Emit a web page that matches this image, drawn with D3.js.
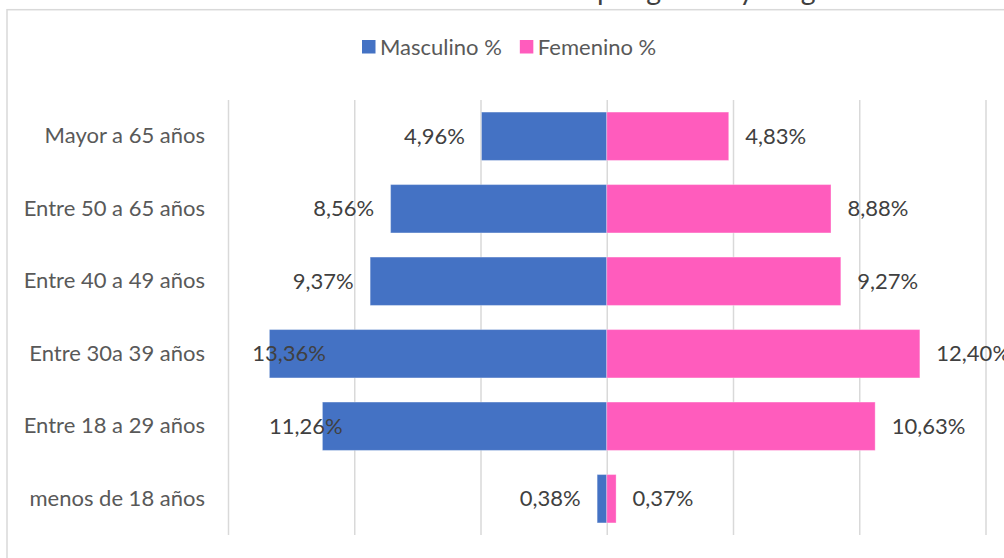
<!DOCTYPE html>
<html><head><meta charset="utf-8">
<script src="https://cdn.jsdelivr.net/npm/d3@7"></script>
<style>
html,body{margin:0;padding:0;background:#fff;}
svg{display:block;}
text{font-family:Lato,"Open Sans",sans-serif;}
</style></head>
<body>
<svg id="chart" width="1004" height="558"></svg>
<script>
// ---- data ----
const categories = ["Mayor a 65 años","Entre 50 a 65 años","Entre 40 a 49 años","Entre 30a 39 años","Entre 18 a 29 años","menos de 18 años"];
const masculino = [4.96, 8.56, 9.37, 13.36, 11.26, 0.38];
const femenino  = [4.83, 8.88, 9.27, 12.40, 10.63, 0.37];
const seriesNames = ["Masculino %", "Femenino %"];
const gridTicks = [-15, -10, -5, 0, 5, 10, 15];
const titleText = "Distribución de los habitantes del sector por género y rango de edad";
// manually moved male labels (label end, in % units)
const maleLabelMoved = {"Entre 30a 39 años": 11.12, "Entre 18 a 29 años": 10.46};

// ---- style/layout ----
const W = 1004, H = 558;
const colors = ["#4472C4", "#FF5CBD"];
const gridColor = "#d9d9d9";
const labelFont = 22;
const svg = d3.select("#chart");

// chart area border
svg.append("rect").attr("x", 7).attr("y", 9.7).attr("width", W + 20).attr("height", H + 20)
  .attr("fill", "#fff").attr("stroke", gridColor).attr("stroke-width", 1.5);

// title (mostly cropped above the picture)
const title = svg.append("text").attr("y", 0).attr("font-size", 28.5).attr("fill", "#404040").text(titleText);
const pIdx = titleText.indexOf("por ");
const prefixW = title.node().getSubStringLength(0, pIdx);
title.attr("x", 597 - prefixW);

// scales
const plotTop = 100, plotBottom = 535;
const x = d3.scaleLinear().domain([-15, 15]).range([228, 985.5]);
const y = d3.scaleBand().domain(categories).range([plotTop, plotBottom]).paddingInner(0.333).paddingOuter(0.1667);

// gridlines
const grid = svg.append("g").attr("transform", `translate(0,${plotBottom})`)
  .call(d3.axisBottom(x).tickValues(gridTicks).tickSize(-(plotBottom - plotTop)).tickFormat(""));
grid.select(".domain").remove();
grid.selectAll("line").attr("stroke", gridColor).attr("stroke-width", 1.5);

// category axis
const yAxis = svg.append("g").attr("transform", `translate(${x(-15)},0)`)
  .call(d3.axisLeft(y).tickSize(0).tickPadding(23));
yAxis.select(".domain").remove();
yAxis.selectAll("text").attr("font-size", labelFont).attr("fill", "#595959")
  .attr("font-family", "Lato, sans-serif");

const rows = categories.map((c, i) => ({c, m: masculino[i], f: femenino[i]}));
const fmt = v => d3.format(".2f")(v).replace(".", ",") + "%";

// bars
svg.append("g").selectAll("rect").data(rows).join("rect")
  .attr("x", d => x(-d.m)).attr("width", d => x(0) - x(-d.m))
  .attr("y", d => y(d.c)).attr("height", y.bandwidth())
  .attr("fill", colors[0]).attr("stroke", "rgba(255,255,255,0.3)").attr("stroke-width", 1);
svg.append("g").selectAll("rect").data(rows).join("rect")
  .attr("x", x(0)).attr("width", d => x(d.f) - x(0))
  .attr("y", d => y(d.c)).attr("height", y.bandwidth())
  .attr("fill", colors[1]).attr("stroke", "rgba(255,255,255,0.3)").attr("stroke-width", 1);

// data labels
const gap = 16.5;
svg.append("g").selectAll("text").data(rows).join("text")
  .attr("text-anchor", "end")
  .attr("x", d => maleLabelMoved[d.c] !== undefined ? x(-maleLabelMoved[d.c]) : x(-d.m) - gap)
  .attr("y", d => y(d.c) + y.bandwidth() / 2).attr("dy", "0.35em")
  .attr("font-size", labelFont).attr("fill", "#404040").text(d => fmt(d.m));
svg.append("g").selectAll("text").data(rows).join("text")
  .attr("text-anchor", "start")
  .attr("x", d => x(d.f) + gap)
  .attr("y", d => y(d.c) + y.bandwidth() / 2).attr("dy", "0.35em")
  .attr("font-size", labelFont).attr("fill", "#404040").text(d => fmt(d.f));

// legend
const legend = svg.append("g");
let lx = 362;
seriesNames.forEach((name, i) => {
  legend.append("rect").attr("x", lx).attr("y", 40).attr("width", 13.5).attr("height", 13.5).attr("fill", colors[i]);
  const t = legend.append("text").attr("x", lx + 18).attr("y", 47).attr("dy", "0.35em")
    .attr("font-size", labelFont).attr("fill", "#595959").text(name);
  lx += 18 + t.node().getComputedTextLength() + 18;
});
</script>
</body></html>
